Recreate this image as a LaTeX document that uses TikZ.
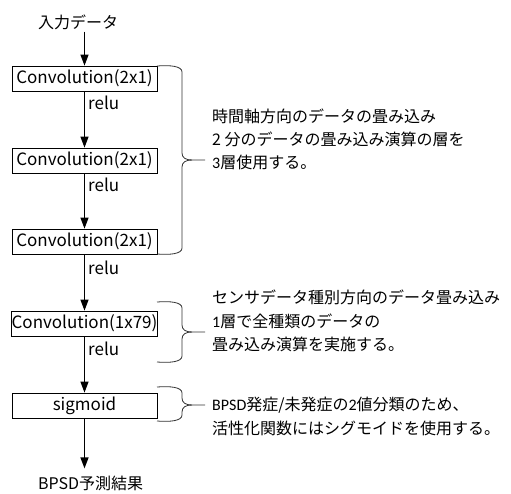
\documentclass[tikz,border=0pt]{standalone}
\usepackage{fontspec}
\setmainfont{Noto Sans CJK JP}
\newfontfamily\calfont{Carlito}
\usetikzlibrary{arrows.meta}
\newcommand\mybrace[3]{%
  \draw[bracestyle] (157,#1) .. controls (170,#1-1) and (182,#1) .. (182,#1+6) -- (182,#3-7)
    .. controls (182,#3-2) and (186,#3) .. (192,#3) -- (205,#3);
  \draw[bracestyle] (157,#2) .. controls (170,#2+1) and (182,#2) .. (182,#2-6) -- (182,#3+7)
    .. controls (182,#3+2) and (186,#3) .. (192,#3);
}
\begin{document}
\begin{tikzpicture}[x=1pt,y=-1pt,
  box/.style={draw, line width=0.8pt, minimum width=145pt, minimum height=25pt, inner sep=0pt, font=\fontsize{17}{20}\selectfont},
  arr/.style={-{Triangle[length=11pt,width=8pt]}, line width=1.3pt},
  lbl/.style={font=\fontsize{17}{20}\selectfont, anchor=west, inner sep=0pt},
  jtxt/.style={font=\fontsize{16}{23}\selectfont, anchor=west, inner sep=0pt},
  bracestyle/.style={draw=black!80, line width=0.8pt}]
\useasboundingbox (0,0) rectangle (511,493);

\node[jtxt, inner sep=2pt] (in) at (36,22) {入力データ};
\node[box] (b1) at (84.5,78.5) {Convolution(2x1)};
\node[box] (b2) at (84.5,160.5) {Convolution(2x1)};
\node[box] (b3) at (84.5,241.5) {Convolution(2x1)};
\node[box] (b4) at (84.5,323.5) {Convolution(1x79)};
\node[box] (b5) at (84.5,405.5) {sigmoid};
\node[jtxt] (out) at (38,483) {BPSD予測結果};

\draw[arr] (b1.north |- in.south) -- (b1.north);
\draw[arr] (b1.south) -- (b2.north);
\draw[arr] (b2.south) -- (b3.north);
\draw[arr] (b3.south) -- (b4.north);
\draw[arr] (b4.south) -- (b5.north);
\draw[arr, shorten >=7pt] (b5.south) -- (b5.south |- out.north);

\node[lbl] (r1) at (88,103) {relu};
\node[lbl] (r2) at (88,185) {relu};
\node[lbl] (r3) at (88,268) {relu};
\node[lbl] (r4) at (88,349) {relu};

\mybrace{66}{254}{160}
\mybrace{302}{362}{332}
\mybrace{387}{421}{405}

\node[jtxt] (t1a) at (212,116) {時間軸方向のデータの畳み込み};
\node[jtxt] (t1b) at (212,139) {2 分のデータの畳み込み演算の層を};
\node[jtxt] (t1c) at (212,162) {{\calfont 3}層使用する。};

\node[jtxt] (t2a) at (212,297) {センサデータ種別方向のデータ畳み込み};
\node[jtxt] (t2b) at (212,321) {{\calfont 1}層で全種類のデータの};
\node[jtxt] (t2c) at (212,344) {畳み込み演算を実施する。};

\node[jtxt] (t3a) at (212,405) {{\calfont BPSD}発症/未発症の{\calfont 2}値分類のため、};
\node[jtxt] (t3b) at (212,428) {活性化関数にはシグモイドを使用する。};
\end{tikzpicture}
\end{document}
